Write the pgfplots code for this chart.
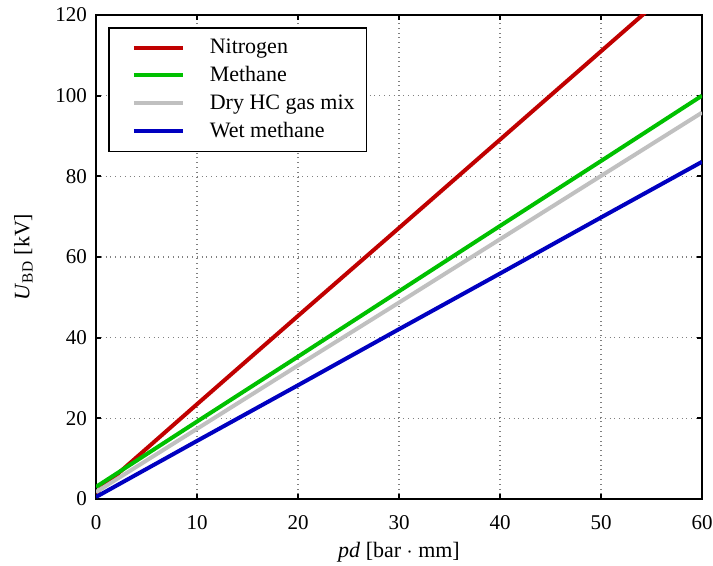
\documentclass[border=0pt]{standalone}
\usepackage{fontspec}
\setmainfont{Liberation Serif}
\usepackage{pgfplots}
\pgfplotsset{compat=1.18}
\definecolor{nitro}{RGB}{192,0,0}
\definecolor{meth}{RGB}{0,192,0}
\definecolor{dryhc}{RGB}{192,192,192}
\definecolor{wetm}{RGB}{0,0,192}
\begin{document}
\begin{tikzpicture}
\begin{axis}[
  name=ax,
  scale only axis,
  width=303pt, height=242pt,
  xmin=0, xmax=60, ymin=0, ymax=120,
  xtick={0,10,...,60}, ytick={0,20,...,120},
  tick align=inside,
  major tick length=2.5pt,
  tick style={black, line width=1pt},
  axis line style={line width=1pt},
  grid=major,
  grid style={dotted, gray, line width=0.6pt},
  /pgf/number format/assume math mode=true,
  tick label style={font=\fontsize{10.5}{12}\selectfont},
  xticklabel style={yshift=-4.5pt},
  yticklabel style={xshift=-1pt},
  label style={font=\fontsize{11}{13}\selectfont},
  xlabel={\textit{pd} [bar $\cdot$ mm]},
  xlabel style={at={(axis description cs:0.5,0)}, anchor=north, yshift=-21.5pt, inner sep=0pt},
  ylabel={\textit{U}\textsubscript{BD} [kV]},
  ylabel style={at={([xshift=-31.5pt]axis description cs:0,0.5)}, anchor=south, inner sep=0pt},
  legend style={at={(axis description cs:0,1)}, xshift=6pt, yshift=-6pt, anchor=north west,
    draw=black, line width=0.8pt,
    font=\fontsize{11}{13}\selectfont, cells={anchor=west},
    row sep=1pt, inner xsep=4pt, inner ysep=3.5pt},
  legend image code/.code={\path (0pt,0pt); \draw[#1, line width=2pt] (7.5pt,0pt) -- (32pt,0pt);},
  every axis plot/.append style={line width=2pt},
]
\addplot[nitro] coordinates {(0,1.5) (10,23.5) (20,45.4) (30,67.2) (40,89.1) (50,111) (60,132.9)};
\addlegendentry{\hspace{10.5pt}Nitrogen}
\addplot[meth] coordinates {(0,3) (10,19.2) (20,35.3) (30,51.5) (40,67.7) (50,83.8) (60,100)};
\addlegendentry{\hspace{10.5pt}Methane}
\addplot[dryhc] coordinates {(0,1.7) (10,17.4) (20,33.1) (30,48.7) (40,64.4) (50,80.1) (60,95.8)};
\addlegendentry{\hspace{10.5pt}Dry HC gas mix}
\addplot[wetm] coordinates {(0,0.5) (10,14.4) (20,28.2) (30,42.1) (40,55.9) (50,69.8) (60,83.6)};
\addlegendentry{\hspace{10.5pt}Wet methane}
\end{axis}
\pgfresetboundingbox
\path ([shift={(-48pt,-33pt)}]ax.south west) rectangle ([shift={(5.5pt,7.5pt)}]ax.north east);
\end{tikzpicture}
\end{document}
